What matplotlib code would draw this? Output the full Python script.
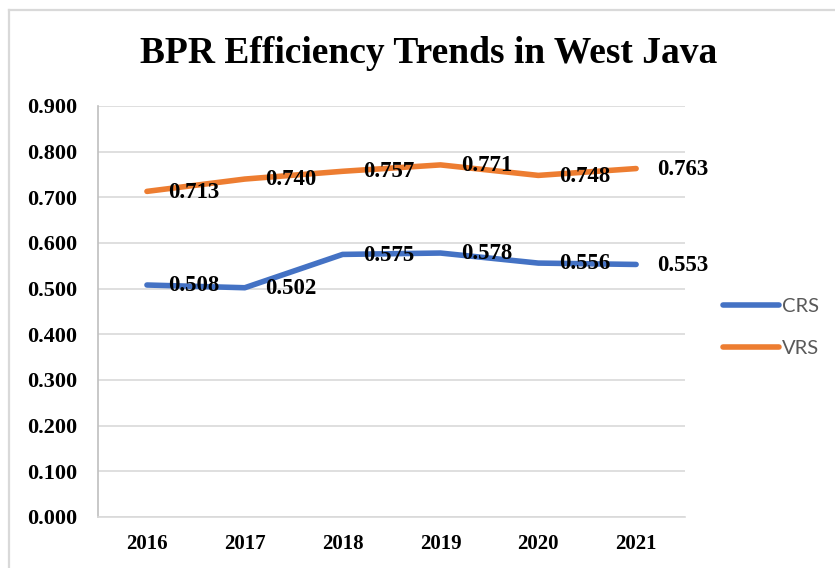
import matplotlib
matplotlib.use("Agg")
import matplotlib.pyplot as plt
from matplotlib.lines import Line2D

years = ["2016", "2017", "2018", "2019", "2020", "2021"]
crs = [0.508, 0.502, 0.575, 0.578, 0.556, 0.553]
vrs = [0.713, 0.740, 0.757, 0.771, 0.748, 0.763]
y_ticks = [0.0, 0.1, 0.2, 0.3, 0.4, 0.5, 0.6, 0.7, 0.8, 0.9]

serif = "Liberation Serif"
blue = "#4472C4"
orange = "#ED7D31"

fig = plt.figure(figsize=(8.35, 5.68), dpi=100)
ax = fig.add_axes([0.1174, 0.0898, 0.703, 0.7236])

x = list(range(len(years)))
ax.plot(x, crs, color=blue, lw=4, solid_capstyle="round", label="CRS")
ax.plot(x, vrs, color=orange, lw=4, solid_capstyle="round", label="VRS")

for xi, v in zip(x, crs):
    ax.annotate(f"{v:.3f}", (xi, v), xytext=(15, -0.5), textcoords="offset points",
                ha="left", va="center", fontsize=16.5, fontweight="bold", family=serif)
for xi, v in zip(x, vrs):
    ax.annotate(f"{v:.3f}", (xi, v), xytext=(15, -0.5), textcoords="offset points",
                ha="left", va="center", fontsize=16.5, fontweight="bold", family=serif)

ax.set_xlim(-0.5, 5.5)
ax.set_ylim(0, 0.9)
ax.set_yticks(y_ticks)
ax.set_yticklabels([f"{t:.3f}" for t in y_ticks], fontsize=16, fontweight="bold", family=serif)
ax.set_xticks(x)
ax.set_xticklabels(years, fontsize=15, fontweight="bold", family=serif)
ax.tick_params(axis="y", length=0, pad=15)
ax.tick_params(axis="x", length=0, pad=12)

ax.grid(axis="y", color="#D9D9D9", lw=1.2)
ax.set_axisbelow(True)
for s in ["top", "right"]:
    ax.spines[s].set_visible(False)
ax.spines["left"].set_color("#BFBFBF")
ax.spines["bottom"].set_color("#D9D9D9")
ax.spines["left"].set_linewidth(1.2)
ax.spines["bottom"].set_linewidth(1.2)

fig.text(0.513, 0.905, "BPR Efficiency Trends in West Java", ha="center", va="center",
         fontsize=27, fontweight="bold", family=serif)

leg = fig.legend(loc="center left", bbox_to_anchor=(0.844, 0.423), frameon=False,
                 prop={"family": "Lato", "size": 14.5}, handlelength=2.8,
                 handletextpad=0.15, labelspacing=1.25, labelcolor="#595959")
for h in leg.get_lines():
    h.set_linewidth(4)

# outer chart border (top and left only)
fig.add_artist(Line2D([8.5 / 835, 1], [1 - 9.5 / 568, 1 - 9.5 / 568], color="#D9D9D9", lw=1.6))
fig.add_artist(Line2D([8.5 / 835, 8.5 / 835], [0, 1 - 9.5 / 568], color="#D9D9D9", lw=1.6))

fig.savefig("out.png", dpi=100)
